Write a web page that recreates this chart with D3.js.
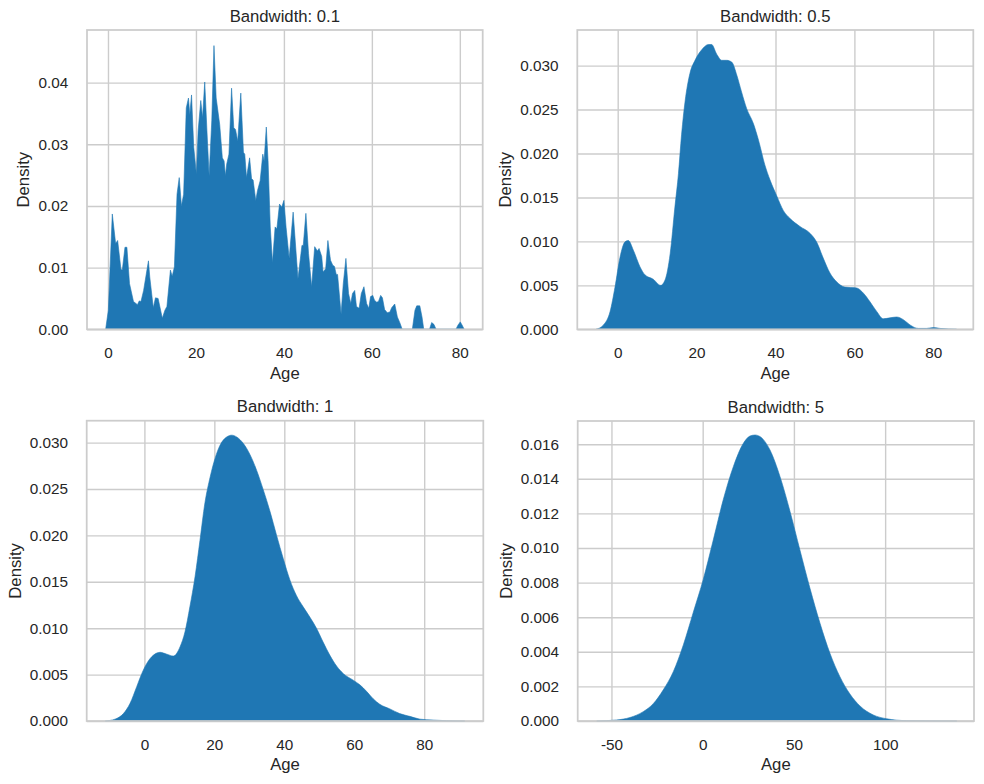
<!DOCTYPE html>
<html>
<head>
<meta charset="utf-8">
<script src="https://cdn.jsdelivr.net/npm/d3@7"></script>
<style>
  html, body { margin: 0; padding: 0; background: #ffffff; }
  svg { display: block; font-family: "Liberation Sans", Arial, sans-serif; }
</style>
</head>
<body>
<svg id="chart" width="984" height="784"></svg>
<script>
// ---------------- DATA ----------------
const titles = ["Bandwidth: 0.1", "Bandwidth: 0.5", "Bandwidth: 1", "Bandwidth: 5"];
const xLabel = "Age";
const yLabel = "Density";

// Bandwidth 0.1
const bw01Age = [-0.53,0.08,0.98,1.74,2.2,2.95,3.26,3.86,4.3,4.9,5.8,6.7,7.1,7.5,8.1,9.2,9.5,10.3,10.8,11.4,12.35,12.95,13.4,14.2,14.6,15.1,15.7,16.2,16.7,17.2,17.8,18.3,18.6,19.0,19.5,20.1,20.5,21.1,21.5,22.0,22.5,23.0,23.6,24.1,24.6,25.4,26.0,26.4,26.7,27.0,27.5,28.1,28.6,29.0,29.5,30.2,30.8,31.1,31.5,32.2,32.65,33.0,33.6,34.0,34.6,35.2,35.5,36.0,36.4,36.9,37.4,38.0,38.4,39.0,39.5,40.0,40.5,41.2,42.1,43.2,44.1,44.4,45.0,45.6,46.3,47.0,47.6,48.0,48.6,48.9,49.5,50.0,50.6,51.1,51.5,51.9,52.2,53.0,53.5,54.1,54.7,55.2,55.6,56.1,56.5,57.1,57.6,58.2,58.8,59.3,59.7,60.2,60.6,61.1,61.5,62.0,62.4,62.9,63.5,64.1,64.5,65.2,65.8,66.4,66.9,69.2,69.8,70.2,70.9,71.4,71.8,73.1,73.6,74.1,74.6,79.1,79.6,80.1,80.5,81.0];
const bw01Density = [0,0.0031,0.0187,0.0139,0.0144,0.0097,0.0096,0.0133,0.0133,0.0074,0.0045,0.004,0.0046,0.0045,0.0063,0.0111,0.0085,0.0035,0.0051,0.005,0.0018,0.0031,0.0037,0.0096,0.0086,0.0101,0.0219,0.0246,0.020,0.0219,0.0359,0.0375,0.0348,0.038,0.0295,0.0252,0.0322,0.0371,0.0343,0.0401,0.0322,0.0249,0.0338,0.046,0.0375,0.0332,0.0278,0.0273,0.0249,0.0268,0.0284,0.0391,0.0327,0.0324,0.0305,0.0383,0.0287,0.0284,0.0246,0.0278,0.0244,0.0242,0.0209,0.0225,0.0241,0.0284,0.0273,0.0328,0.0273,0.0166,0.0108,0.0166,0.0163,0.0203,0.0198,0.0209,0.0165,0.0115,0.019,0.0082,0.0136,0.0136,0.0188,0.0123,0.0069,0.0134,0.0127,0.0131,0.0118,0.0093,0.0098,0.0144,0.0112,0.0104,0.0102,0.0089,0.0089,0.0025,0.0074,0.0115,0.0058,0.0042,0.0058,0.0063,0.0037,0.0034,0.0058,0.0069,0.0042,0.0034,0.0053,0.0055,0.0047,0.0044,0.0045,0.0055,0.0051,0.0032,0.0027,0.0028,0.0035,0.0041,0.002,0.001,0,0,0.0031,0.0038,0.0038,0.002,0,0,0.0011,0.0008,0,0,0.0007,0.0012,0.0007,0];

// Bandwidth 0.5
const bw05Age = [-5.5,-3.6,-1.94,-0.68,0.59,1.86,2.7,3.97,5.66,6.9,9.0,10.9,12.0,13.3,14.5,15.4,16.2,17.1,18.3,19.6,21.3,23.0,23.8,25.1,26.4,27.6,28.9,30.2,31.4,32.7,34.4,35.7,37.3,38.6,40.3,42.0,43.7,46.2,48.8,50.4,52.1,53.8,55.5,57.6,60.6,62.3,64.0,65.7,67.3,69.0,70.7,72.4,74.1,76.2,78.3,80.0,81.7,85.9];
const bw05Density = [0,0.0005,0.002,0.0048,0.0082,0.00995,0.0101,0.009,0.0071,0.0062,0.0057,0.005,0.0056,0.0086,0.0139,0.0177,0.0222,0.026,0.0291,0.0306,0.0318,0.0324,0.0324,0.0313,0.0306,0.0306,0.0304,0.0289,0.027,0.0251,0.0234,0.0215,0.0187,0.017,0.0152,0.0135,0.0126,0.0117,0.0109,0.00995,0.0081,0.0064,0.0054,0.0048,0.0047,0.0041,0.0031,0.002,0.0012,0.0013,0.0014,0.0011,0.0005,0.0001,0.0001,0.0002,0.0001,0];

// Bandwidth 1
const bw1Age = [-11.2,-8.4,-6.0,-4.1,-2.2,-0.76,0.67,2.6,4.5,6.4,8.3,10.2,11.6,13.0,14.5,15.9,17.3,18.8,20.2,21.6,23.5,25.0,26.4,28.3,30.2,32.1,34.0,35.9,37.8,39.7,41.6,43.5,45.4,47.3,49.2,51.1,53.0,55.0,56.9,59.7,61.6,63.5,65.4,67.3,70.2,73.0,75.9,78.8,82.6,86.4,91.6];
const bw1Density = [0,0.0002,0.0008,0.0019,0.0037,0.0051,0.0062,0.0071,0.0074,0.0072,0.007,0.008,0.0096,0.0123,0.0156,0.0195,0.0235,0.0263,0.0283,0.0297,0.0306,0.0308,0.0306,0.0299,0.0287,0.027,0.0249,0.0226,0.02,0.0175,0.0152,0.0135,0.0123,0.0112,0.01,0.0085,0.0071,0.0059,0.0051,0.0044,0.0039,0.0032,0.0024,0.0018,0.0013,0.0008,0.0005,0.0002,0.0001,0.00003,0];

// Bandwidth 5
const bw5Age = [-58.1,-47.2,-39.9,-32.6,-27.1,-21.6,-16.1,-10.6,-5.1,0.35,5.8,11.3,16.8,22.3,25.9,28.7,31.4,36.9,42.4,47.9,53.3,58.8,64.3,69.8,75.2,80.7,86.2,93.5,100.8,111.8,139.3];
const bw5Density = [0,0.00006,0.0002,0.00054,0.001,0.0018,0.00285,0.0044,0.0063,0.0082,0.01046,0.0128,0.0147,0.01605,0.01647,0.01653,0.01644,0.01566,0.01412,0.0121,0.00988,0.00767,0.00565,0.0039,0.00256,0.00156,0.00087,0.00035,0.00013,0.00002,0];

// Tick values and labels
const xTicksA = [0, 20, 40, 60, 80];
const xTickLabelsA = ["0", "20", "40", "60", "80"];
const xTicksD = [-50, 0, 50, 100];
const xTickLabelsD = ["-50", "0", "50", "100"];
const yTicks01 = [0, 0.01, 0.02, 0.03, 0.04];
const yTickLabels01 = ["0.00", "0.01", "0.02", "0.03", "0.04"];
const yTicks005 = [0, 0.005, 0.010, 0.015, 0.020, 0.025, 0.030];
const yTickLabels005 = ["0.000", "0.005", "0.010", "0.015", "0.020", "0.025", "0.030"];
const yTicks5 = [0, 0.002, 0.004, 0.006, 0.008, 0.010, 0.012, 0.014, 0.016];
const yTickLabels5 = ["0.000", "0.002", "0.004", "0.006", "0.008", "0.010", "0.012", "0.014", "0.016"];

// ---------------- LAYOUT ----------------
const panels = [
  { box: {l: 87, r: 482.7, t: 30, b: 329.3}, xDom: [-4.77, 85.2], yDom: [0, 0.04853],
    title: titles[0], age: bw01Age, dens: bw01Density, curve: d3.curveLinear,
    xt: xTicksA, xtl: xTickLabelsA, yt: yTicks01, ytl: yTickLabels01 },
  { box: {l: 577.3, r: 973.3, t: 30, b: 329.3}, xDom: [-10.24, 90.14], yDom: [0, 0.03405],
    title: titles[1], age: bw05Age, dens: bw05Density, curve: d3.curveMonotoneX,
    xt: xTicksA, xtl: xTickLabelsA, yt: yTicks005, ytl: yTickLabels005 },
  { box: {l: 86.7, r: 483.3, t: 420.7, b: 721}, xDom: [-16.5, 96.9], yDom: [0, 0.03236],
    title: titles[2], age: bw1Age, dens: bw1Density, curve: d3.curveMonotoneX,
    xt: xTicksA, xtl: xTickLabelsA, yt: yTicks005, ytl: yTickLabels005 },
  { box: {l: 577.7, r: 974, t: 421, b: 721}, xDom: [-68.5, 148.7], yDom: [0, 0.01734],
    title: titles[3], age: bw5Age, dens: bw5Density, curve: d3.curveMonotoneX,
    xt: xTicksD, xtl: xTickLabelsD, yt: yTicks5, ytl: yTickLabels5 }
];

const svg = d3.select("#chart");
svg.append("rect").attr("width", 984).attr("height", 784).attr("fill", "#ffffff");

const gridColor = "#cccccc";
const textColor = "#262626";
const fillColor = "#1f77b4";
const tickFont = 15.3;
const labelFont = 16.7;

panels.forEach(p => {
  const {l, r, t, b} = p.box;
  const x = d3.scaleLinear().domain(p.xDom).range([l, r]);
  const y = d3.scaleLinear().domain(p.yDom).range([b, t]);
  const g = svg.append("g");

  // x grid + labels
  const xAxis = d3.axisBottom(x).tickValues(p.xt)
    .tickFormat((d, i) => p.xtl[i]).tickSize(-(b - t)).tickPadding(18.3);
  const gx = g.append("g").attr("transform", `translate(0,${b})`).call(xAxis);
  gx.select(".domain").remove();
  gx.selectAll("line").attr("stroke", gridColor).attr("stroke-width", 1.4);
  gx.selectAll("text").attr("fill", textColor).style("font-size", tickFont + "px")
    .style("font-family", '"Liberation Sans", Arial, sans-serif');

  // y grid + labels
  const yAxis = d3.axisLeft(y).tickValues(p.yt)
    .tickFormat((d, i) => p.ytl[i]).tickSize(-(r - l)).tickPadding(18.7);
  const gy = g.append("g").attr("transform", `translate(${l},0)`).call(yAxis);
  gy.select(".domain").remove();
  gy.selectAll("line").attr("stroke", gridColor).attr("stroke-width", 1.4);
  gy.selectAll("text").attr("fill", textColor).style("font-size", tickFont + "px")
    .style("font-family", '"Liberation Sans", Arial, sans-serif');

  // density area
  const pts = p.age.map((a, i) => [a, p.dens[i]]);
  const area = d3.area().x(d => x(d[0])).y0(y(0)).y1(d => y(d[1])).curve(p.curve);
  g.append("path").datum(pts).attr("d", area)
    .attr("fill", fillColor).attr("stroke", fillColor).attr("stroke-width", 0.6)
    .attr("stroke-linejoin", "round");

  // spines
  g.append("rect").attr("x", l).attr("y", t).attr("width", r - l).attr("height", b - t)
    .attr("fill", "none").attr("stroke", gridColor).attr("stroke-width", 1.75);

  // title
  g.append("text").attr("x", (l + r) / 2).attr("y", t - 8.3)
    .attr("text-anchor", "middle").attr("fill", textColor)
    .style("font-size", labelFont + "px").text(p.title);

  // x label
  g.append("text").attr("x", (l + r) / 2).attr("y", b + 49.2)
    .attr("text-anchor", "middle").attr("fill", textColor)
    .style("font-size", labelFont + "px").text(xLabel);

  // y label, placed left of widest tick label
  let maxW = 0;
  gy.selectAll("text").each(function() { maxW = Math.max(maxW, this.getComputedTextLength()); });
  const yl = l - 18.7 - maxW - 5.6 - 3.6;
  g.append("text").attr("transform", `translate(${yl},${(t + b) / 2}) rotate(-90)`)
    .attr("text-anchor", "middle").attr("fill", textColor)
    .style("font-size", labelFont + "px").text(yLabel);
});
</script>
</body>
</html>
